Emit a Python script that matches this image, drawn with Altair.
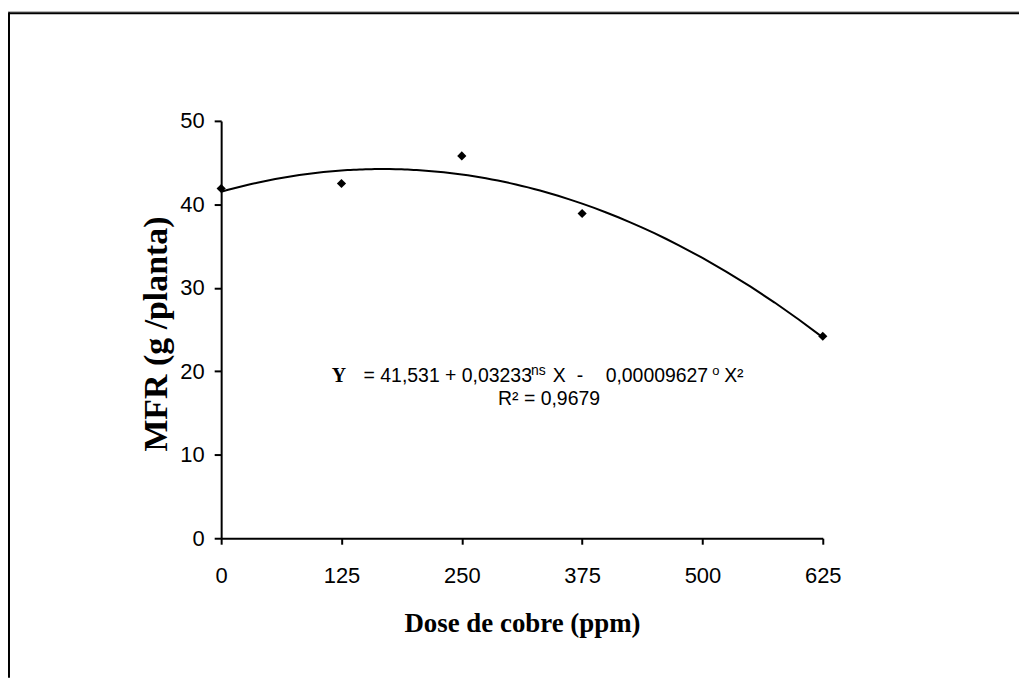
import altair as alt
import pandas as pd

# Data
dose = [0, 125, 250, 375, 625]
mfr = [41.9, 42.5, 45.8, 38.9, 24.2]
x_ticks = [0, 125, 250, 375, 500, 625]
y_ticks = [0, 10, 20, 30, 40, 50]

df = pd.DataFrame({"dose": dose, "mfr": mfr})

W, H = 604, 419
SANS = "Liberation Sans"
SERIF = "Liberation Serif"

xs = alt.Scale(domain=[0, 625], nice=False, zero=False)
ys = alt.Scale(domain=[0, 50], nice=False)

x_axis = alt.Axis(values=x_ticks, title="Dose de cobre (ppm)", grid=False,
                  tickSize=6, tickWidth=2, domainWidth=2, labelPadding=21,
                  labelFontSize=22, labelFont=SANS, labelColor="black",
                  domainColor="black", tickColor="black",
                  titleFont=SERIF, titleFontSize=27, titleFontWeight="bold",
                  titleColor="black", titleX=W / 2, titleY=94,
                  titleBaseline="alphabetic", labelFlush=False)
y_axis = alt.Axis(values=y_ticks, title="MFR (g /planta)", grid=False,
                  tickSize=7, tickWidth=2, domainWidth=2, labelPadding=10,
                  labelFontSize=22, labelFont=SANS, labelColor="black",
                  domainColor="black", tickColor="black",
                  titleFont=SERIF, titleFontSize=34, titleFontWeight="bold",
                  titleColor="black", titleX=-55, titleY=H / 2 + 4,
                  titleBaseline="alphabetic", titleAngle=270, labelFlush=False)

points = alt.Chart(df).mark_point(shape="diamond", filled=True, size=85,
                                  color="black", opacity=1).encode(
    x=alt.X("dose:Q", scale=xs, axis=x_axis),
    y=alt.Y("mfr:Q", scale=ys, axis=y_axis),
)

curve = alt.Chart(df).transform_regression(
    "dose", "mfr", method="poly", order=2, extent=[0, 625]
).mark_line(color="black", strokeWidth=2).encode(
    x=alt.X("dose:Q", scale=xs, axis=x_axis),
    y=alt.Y("mfr:Q", scale=ys, axis=y_axis),
)


def txt(s, x, y, size, font=SANS, weight="normal"):
    return alt.Chart(alt.Data(values=[{}])).mark_text(
        text=s, align="left", baseline="alphabetic", font=font,
        fontSize=size, fontWeight=weight, color="black"
    ).encode(x=alt.value(x), y=alt.value(y))


eq = [
    txt("Y", 111, 262, 20, SERIF, "bold"),
    txt("= 41,531 + 0,03233", 143, 262, 19.5),
    txt("ns", 311, 255, 14),
    txt("X", 333, 262, 19.5),
    txt("-", 357, 262, 19.5),
    txt("0,00009627", 386, 262, 19.5),
    txt("o", 493, 255, 13),
    txt("X²", 505, 262, 19.5),
    txt("R² = 0,9679", 278, 285, 19.5),
]

one = alt.Data(values=[{}])
frame_top_grey = alt.Chart(one).mark_rule(color="#999999", strokeWidth=1).encode(
    x=alt.value(-214), x2=alt.value(801), y=alt.value(-109.5))
frame_top = alt.Chart(one).mark_rule(color="black", strokeWidth=2).encode(
    x=alt.value(-213), x2=alt.value(801), y=alt.value(-108))
frame_left = alt.Chart(one).mark_rule(color="black", strokeWidth=2).encode(
    x=alt.value(-213), y=alt.value(-109), y2=alt.value(559))

chart = alt.layer(
    frame_top_grey, frame_top, frame_left, curve, points, *eq
).properties(
    width=W, height=H,
    autosize=alt.AutoSizeParams(type="none"),
    padding={"left": 214, "top": 112, "right": 197, "bottom": 140},
).configure(background="white").configure_view(stroke=None)

chart.save("out.html", embed_options={"renderer": "svg", "actions": False})
